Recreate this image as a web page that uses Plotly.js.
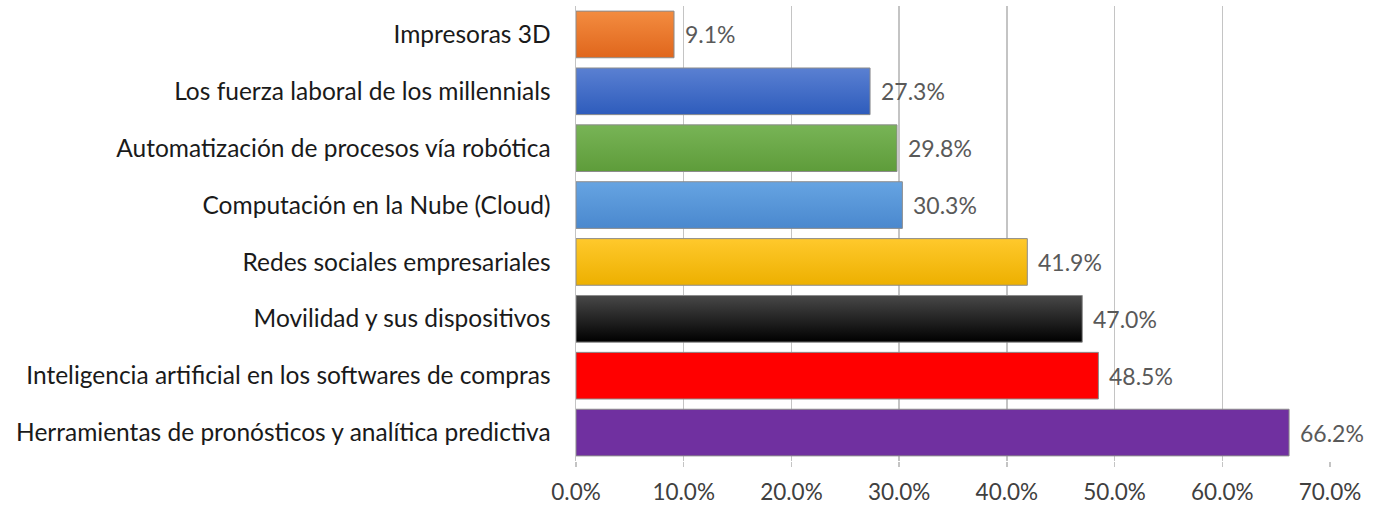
<!DOCTYPE html>
<html>
<head>
<meta charset="utf-8">
<script src="https://cdn.plot.ly/plotly-3.0.1.min.js"></script>
<style>html,body{margin:0;padding:0;background:#fff;}#chart{width:1377px;height:507px;}</style>
</head>
<body>
<div id="chart"></div>
<script>
const categories = [
  "Impresoras 3D",
  "Los fuerza laboral de los millennials",
  "Automatización de procesos vía robótica",
  "Computación en la Nube (Cloud)",
  "Redes sociales empresariales",
  "Movilidad y sus dispositivos",
  "Inteligencia artificial en los softwares de compras",
  "Herramientas de pronósticos y analítica predictiva"
];
const values = [0.091, 0.273, 0.298, 0.303, 0.419, 0.470, 0.485, 0.662];
const barColors = ["#EA7A2E", "#4270C8", "#6BA845", "#5996DA", "#F8BE12", "#151515", "#FF0000", "#7030A0"];
const gradTop = ["#F38C40", "#5A80D2", "#78B456", "#66A4E2", "#FFC92C", "#484848", "#FF0000", "#7030A0"];
const gradBottom = ["#E0661C", "#2E5CBC", "#5E9C3A", "#4A88CE", "#EDB000", "#000000", "#FF0000", "#7030A0"];
const tickVals = [0, 0.1, 0.2, 0.3, 0.4, 0.5, 0.6, 0.7];
const tickText = ["0.0%", "10.0%", "20.0%", "30.0%", "40.0%", "50.0%", "60.0%", "70.0%"];

const FONT = "Lato, 'Open Sans', sans-serif";

const trace = {
  type: "bar",
  orientation: "h",
  x: values,
  y: categories,
  marker: {color: barColors, line: {color: "#8c8c8c", width: 1}},
  width: 0.82,
  hoverinfo: "none",
  cliponaxis: false
};

const annotations = values.map((v, i) => ({
  x: v, y: categories[i], xref: "x", yref: "y",
  text: (v * 100).toFixed(1) + "%",
  showarrow: false, xanchor: "left", yanchor: "middle", xshift: 9, yshift: 0,
  font: {family: FONT, size: 23, color: "#595959"}
}));

const layout = {
  width: 1377, height: 507,
  margin: {l: 576, r: 47, t: 6, b: 46, pad: 0},
  paper_bgcolor: "#fff", plot_bgcolor: "#fff",
  showlegend: false,
  bargap: 0.18,
  xaxis: {
    range: [0, 0.7], tickvals: tickVals, ticktext: tickText,
    showgrid: true, gridcolor: "#c4c4c4", gridwidth: 1.5,
    zeroline: false, showline: false,
    ticks: "outside", ticklen: 5, tickcolor: "#c4c4c4", tickwidth: 1.5,
    ticklabelstandoff: 6,
    tickfont: {family: FONT, size: 22.5, color: "#404040"},
    fixedrange: true
  },
  yaxis: {
    type: "category", autorange: "reversed",
    showgrid: false, zeroline: false,
    showline: true, linecolor: "#c4c4c4", linewidth: 1.5,
    ticks: "", ticklabelstandoff: 19,
    tickfont: {family: FONT, size: 24.5, color: "#1a1a1a"},
    fixedrange: true
  },
  annotations: annotations
};

Plotly.newPlot("chart", [trace], layout, {displayModeBar: false, staticPlot: true}).then(gd => {
  const svg = gd.querySelector("svg.main-svg");
  const ns = "http://www.w3.org/2000/svg";
  let defs = svg.querySelector("defs");
  if (!defs) { defs = document.createElementNS(ns, "defs"); svg.insertBefore(defs, svg.firstChild); }
  const paths = gd.querySelectorAll(".trace.bars .point path");
  paths.forEach((p, i) => {
    const g = document.createElementNS(ns, "linearGradient");
    g.setAttribute("id", "bargrad" + i);
    g.setAttribute("x1", "0"); g.setAttribute("y1", "0");
    g.setAttribute("x2", "0"); g.setAttribute("y2", "1");
    const s1 = document.createElementNS(ns, "stop");
    s1.setAttribute("offset", "0"); s1.setAttribute("stop-color", gradTop[i]);
    const s2 = document.createElementNS(ns, "stop");
    s2.setAttribute("offset", "1"); s2.setAttribute("stop-color", gradBottom[i]);
    g.appendChild(s1); g.appendChild(s2);
    defs.appendChild(g);
    p.style.fill = "url(#bargrad" + i + ")";
  });
});
</script>
</body>
</html>
